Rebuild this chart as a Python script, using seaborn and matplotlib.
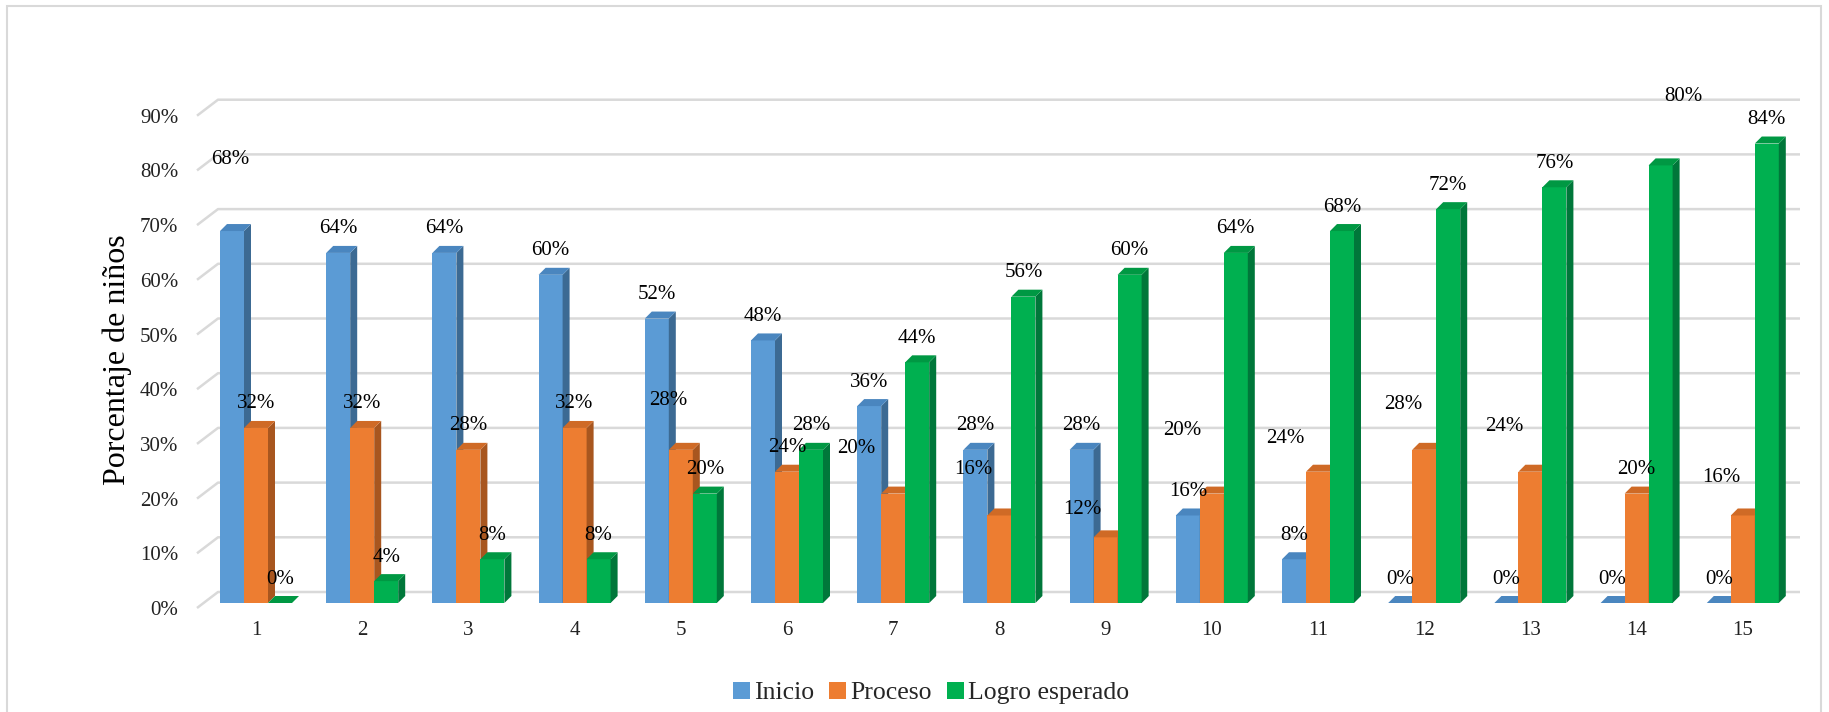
import numpy as np
import pandas as pd
import matplotlib
matplotlib.use("Agg")
import matplotlib.pyplot as plt
import matplotlib.transforms as mtransforms
import seaborn as sns
from matplotlib.patches import Polygon, Rectangle, Patch

# ---- data -------------------------------------------------------------
categorias = [str(i) for i in range(1, 16)]
inicio = [68, 64, 64, 60, 52, 48, 36, 28, 28, 16, 8, 0, 0, 0, 0]
proceso = [32, 32, 28, 32, 28, 24, 20, 16, 12, 20, 24, 28, 24, 20, 16]
logro = [0, 4, 8, 8, 20, 28, 44, 56, 60, 64, 68, 72, 76, 80, 84]
series = ["Inicio", "Proceso", "Logro esperado"]
y_ticks = [0, 10, 20, 30, 40, 50, 60, 70, 80, 90]

# ---- styling ----------------------------------------------------------
front = {"Inicio": "#5B9BD5", "Proceso": "#ED7D31", "Logro esperado": "#00B050"}
side = {"Inicio": "#3C6A93", "Proceso": "#A8561F", "Logro esperado": "#00773A"}
top = {"Inicio": "#4A86BF", "Proceso": "#CF6A26", "Logro esperado": "#009843"}
grid_color = "#D9D9D9"

# label nudges (pixels: dx, extra lift) for labels that sit off their bar
label_nudge = {
    ("Inicio", 0): (-2, 48),
    ("Proceso", 4): (-13, 25),
    ("Proceso", 6): (-37, 21),
    ("Proceso", 7): (-26, 22),
    ("Proceso", 8): (-23, 4),
    ("Proceso", 9): (-30, 39),
    ("Proceso", 10): (-33, 9),
    ("Proceso", 11): (-21, 21),
    ("Proceso", 12): (-26, 21),
    ("Proceso", 14): (-22, 14),
    ("Logro esperado", 13): (23, 45),
}

df = pd.DataFrame({
    "grupo": categorias * 3,
    "serie": [s for s in series for _ in categorias],
    "valor": inicio + proceso + logro,
})

sns.set_theme(style="white")
plt.rcParams["font.family"] = ["Liberation Serif", "DejaVu Serif"]

W, H = 1829, 712
fig = plt.figure(figsize=(W / 100, H / 100), dpi=100)
fig.patch.set_facecolor("white")

ax_left, ax_right, ax_base, ax_top = 197, 1800, 603, 95
ax = fig.add_axes([ax_left / W, (H - ax_base) / H,
                   (ax_right - ax_left) / W, (ax_base - ax_top) / H])

sns.barplot(data=df, x="grupo", y="valor", hue="serie", hue_order=series,
            palette=front, saturation=1, width=0.678, gap=0, dodge=True,
            legend=False, ax=ax, edgecolor="none", linewidth=0)

px_per_unit_x = 106.2
px_per_pct = 5.47
x0_lim = -(256 - ax_left) / px_per_unit_x
x1_lim = (ax_right - 256) / px_per_unit_x
ax.set_xlim(x0_lim, x1_lim)
ax.set_ylim(0, (ax_base - ax_top) / px_per_pct)
ax.set_facecolor("none")
sns.despine(ax=ax, left=True, bottom=True, top=True, right=True)

# depth of the bars in data units
depth_px = 7
dx = depth_px / px_per_unit_x
dy = depth_px / px_per_pct

# back wall gridlines with a short slanted return at the left
back_dx = 21 / px_per_unit_x
back_up = 11 / px_per_pct
front_down = 5 / px_per_pct
for v in y_ticks:
    ax.plot([x0_lim, x0_lim + back_dx, x1_lim],
            [v - front_down, v + back_up, v + back_up],
            color=grid_color, lw=1.8, zorder=0.5, clip_on=False,
            solid_capstyle="butt")

# 3D faces and value labels
for k, cont in enumerate(ax.containers):
    s = series[k]
    for j, bar in enumerate(cont):
        x0 = bar.get_x()
        w = bar.get_width()
        x1 = x0 + w
        v = bar.get_height()
        z = 2 + k
        bar.set_zorder(z)
        ax.add_patch(Polygon([(x1, 0), (x1 + dx, dy), (x1 + dx, v + dy), (x1, v)],
                             closed=True, facecolor=side[s], edgecolor="none",
                             zorder=z, clip_on=False))
        ax.add_patch(Polygon([(x0, v), (x1, v), (x1 + dx, v + dy), (x0 + dx, v + dy)],
                             closed=True, facecolor=top[s], edgecolor="none",
                             zorder=z, clip_on=False))
        ndx, nup = label_nudge.get((s, j), (0, 0))
        ax.annotate(f"{v:.0f}%", xy=(x0 + w / 2, v), xytext=(ndx, 24 + nup),
                    textcoords="offset pixels", ha="center", va="center",
                    fontsize=15, color="black", zorder=10, annotation_clip=False)

# axes text
ax.set_yticks(y_ticks)
ax.set_yticklabels([f"{t}%" for t in y_ticks])
ax.tick_params(axis="y", length=0, pad=13.5, labelsize=15, labelcolor="#222222")
ax.tick_params(axis="x", length=0, pad=13, labelsize=15, labelcolor="#222222")
ax.set_xlabel("")
ax.set_ylabel("")
ax.grid(False)

# the value scale sits on the slanted front edge, a little below the wall lines
shift_down = mtransforms.ScaledTranslation(0, -5 / 100, fig.dpi_scale_trans)
for tick in ax.yaxis.get_major_ticks():
    tick.label1.set_transform(tick.label1.get_transform() + shift_down)

fig.text(117 / W, 1 - 360 / H, "Porcentaje de niños", rotation=90,
         ha="center", va="center", fontsize=23, color="black")

# legend
handles = [Patch(facecolor=front[s], edgecolor="none") for s in series]
fig.legend(handles, series, loc="center", bbox_to_anchor=(931 / W, 1 - 693 / H),
           ncol=3, frameon=False, fontsize=18.5, handlelength=0.66,
           handleheight=0.66, handletextpad=0.15, columnspacing=0.6)

# chart border
fig.add_artist(Rectangle((7 / W, -0.02), (1821 - 7) / W, (H - 6) / H + 0.02,
                         transform=fig.transFigure, fill=False,
                         edgecolor=grid_color, lw=1.5))

fig.savefig("out.png", dpi=100, facecolor="white")
